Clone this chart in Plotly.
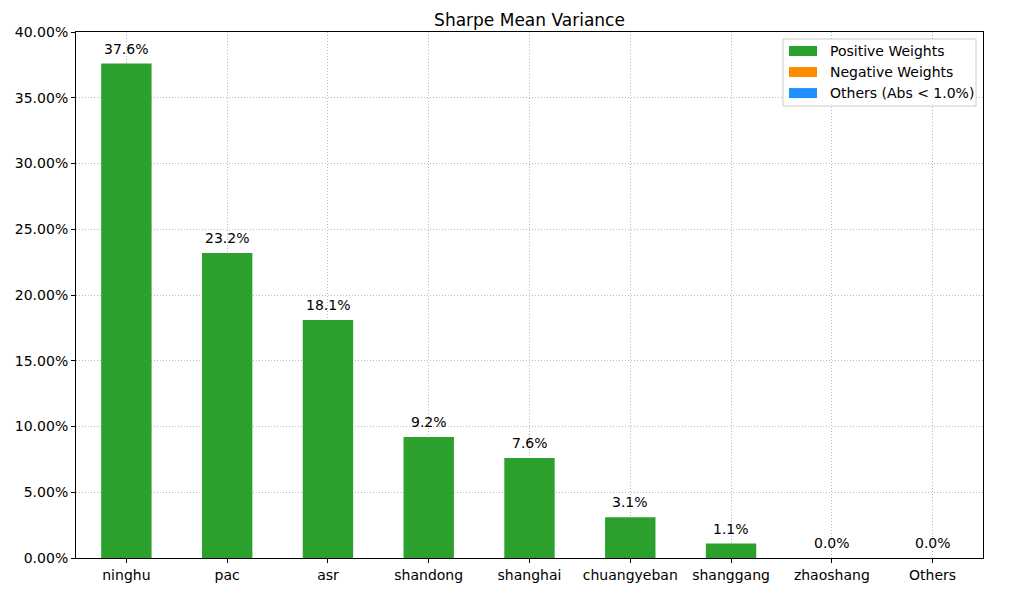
import plotly.graph_objects as go

categories = ["ninghu", "pac", "asr", "shandong", "shanghai", "chuangyeban", "shanggang", "zhaoshang", "Others"]
weights = [0.376, 0.232, 0.181, 0.092, 0.076, 0.031, 0.011, 0.0, 0.0]
y_ticks = [0.0, 0.05, 0.10, 0.15, 0.20, 0.25, 0.30, 0.35, 0.40]
legend_names = ["Positive Weights", "Negative Weights", "Others (Abs < 1.0%)"]

GREEN = "#2ca02c"
ORANGE = "#ff8c00"
BLUE = "#1e90ff"
legend_colors = [GREEN, ORANGE, BLUE]
FONT = "DejaVu Sans"

fig = go.Figure()
fig.add_trace(go.Bar(x=categories, y=weights, name=legend_names[0],
                     marker=dict(color=GREEN, line=dict(width=0)), width=0.5))
fig.add_trace(go.Bar(x=[categories[0]], y=[None], name=legend_names[1],
                     marker=dict(color=ORANGE), width=0.5))
fig.add_trace(go.Bar(x=[categories[0]], y=[None], name=legend_names[2],
                     marker=dict(color=BLUE), width=0.5))

for c, w in zip(categories, weights):
    fig.add_annotation(x=c, y=w, text=f"{w*100:.1f}%", showarrow=False,
                       yanchor="bottom", yshift=5, font=dict(size=14, color="black", family=FONT))

# matplotlib-style legend (wide patches)
fig.add_shape(type="rect", xref="paper", yref="paper", x0=0.7795, x1=0.9923, y0=0.8593, y1=0.9867,
              fillcolor="rgba(255,255,255,0.8)", line=dict(color="#cccccc", width=1), layer="above")
for i, (nm, col) in enumerate(zip(legend_names, legend_colors)):
    yc = 0.9639 - i * 0.0400
    fig.add_shape(type="rect", xref="paper", yref="paper", x0=0.7861, x1=0.8170,
                  y0=yc - 0.0095, y1=yc + 0.0095, fillcolor=col, line=dict(width=0), layer="above")
    fig.add_annotation(xref="paper", yref="paper", x=0.8291, y=yc, text=nm, showarrow=False,
                       xanchor="left", yanchor="middle", font=dict(size=14, color="black", family=FONT))

fig.update_layout(
    width=1017, height=593,
    margin=dict(l=68, r=42, t=24, b=43),
    paper_bgcolor="white", plot_bgcolor="white",
    font=dict(family=FONT, size=14, color="black"),
    title=dict(text="Sharpe Mean Variance", x=0.5128, xanchor="center", y=0.9798, yanchor="middle",
               font=dict(size=17, family=FONT, color="black")),
    barmode="overlay",
    showlegend=False,
    xaxis=dict(range=[-0.5, 8.5], showgrid=True, gridcolor="#b8b8b8", griddash="1px,2px", gridwidth=1,
               showline=True, linecolor="black", linewidth=1, mirror=True, automargin=False,
               ticks="outside", ticklen=4, tickcolor="black", tickfont=dict(size=14)),
    yaxis=dict(range=[0, 0.40], tickvals=y_ticks, tickformat=".2%",
               showgrid=True, gridcolor="#b8b8b8", griddash="1px,2px", gridwidth=1,
               showline=True, linecolor="black", linewidth=1, mirror=True, zeroline=False,
               automargin=False,
               ticks="outside", ticklen=4, tickcolor="black", tickfont=dict(size=14)),
)

fig.write_html("out.html")
